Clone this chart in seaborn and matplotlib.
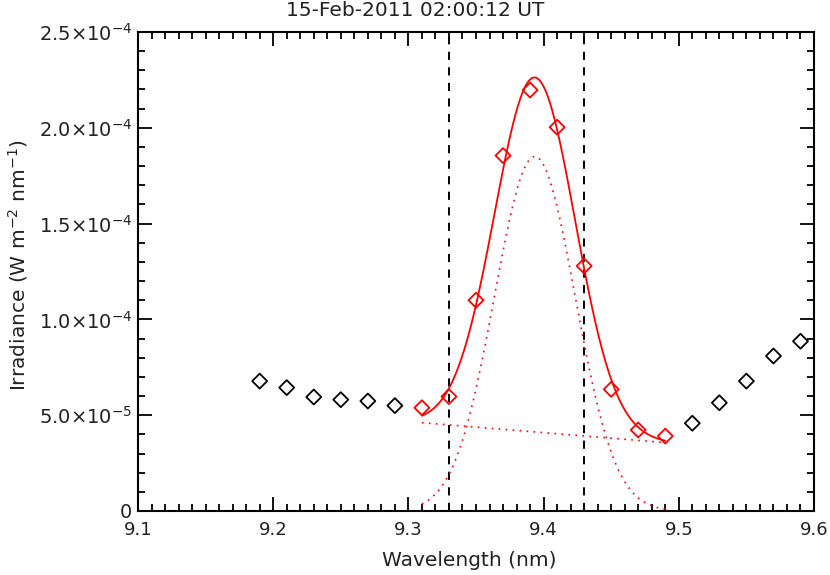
import numpy as np
import pandas as pd
import matplotlib
matplotlib.use("Agg")
import matplotlib.pyplot as plt
import seaborn as sns
from matplotlib.ticker import MultipleLocator, FixedLocator, FixedFormatter

# --- data ---
wave_out = [9.19, 9.21, 9.23, 9.25, 9.27, 9.29, 9.51, 9.53, 9.55, 9.57, 9.59]
irr_out = [6.78e-5, 6.44e-5, 5.95e-5, 5.81e-5, 5.74e-5, 5.50e-5,
           4.58e-5, 5.65e-5, 6.78e-5, 8.09e-5, 8.86e-5]

wave_fit = [9.31, 9.33, 9.35, 9.37, 9.39, 9.41, 9.43, 9.45, 9.47, 9.49]
irr_fit = [5.39e-5, 5.97e-5, 11.0e-5, 18.55e-5, 21.97e-5, 20.03e-5,
           12.79e-5, 6.35e-5, 4.23e-5, 3.91e-5]

# gaussian + linear background fit parameters
gauss_amp = 18.5e-5
gauss_center = 9.3935
gauss_sigma = 0.0298
bg_wave = [9.31, 9.49]
bg_irr = [4.61e-5, 3.57e-5]

window = [9.33, 9.43]

title = "15-Feb-2011 02:00:12 UT"
ytick_vals = [0, 5e-5, 1e-4, 1.5e-4, 2e-4, 2.5e-4]
ytick_labels = ["0", r"5.0$\times$10$^{-5}$", r"1.0$\times$10$^{-4}$",
                r"1.5$\times$10$^{-4}$", r"2.0$\times$10$^{-4}$",
                r"2.5$\times$10$^{-4}$"]

# --- model curves ---
xx = np.linspace(bg_wave[0], bg_wave[1], 300)
slope = (bg_irr[1] - bg_irr[0]) / (bg_wave[1] - bg_wave[0])
bg = bg_irr[0] + slope * (xx - bg_wave[0])
gauss = gauss_amp * np.exp(-(xx - gauss_center) ** 2 / (2 * gauss_sigma ** 2))
curves = pd.DataFrame({"x": xx, "bg": bg, "gauss": gauss, "total": bg + gauss})

sns.set_style("ticks")
plt.rcParams["font.family"] = ["DejaVu Sans"]
plt.rcParams["mathtext.fontset"] = "dejavusans"
TXT = "#222222"
RED = "#ff0000"

fig = plt.figure(figsize=(8.3, 5.75), dpi=100)
ax = fig.add_axes([138 / 830, 1 - 511 / 575, 676 / 830, 479 / 575])

for w in window:
    ax.axvline(w, color="black", lw=1.4, dashes=(4.2, 3.8), zorder=1)

sns.lineplot(data=curves, x="x", y="gauss", ax=ax, color=RED, lw=1.2,
             linestyle=(0, (1, 3.2)), zorder=2)
sns.lineplot(data=curves, x="x", y="bg", ax=ax, color=RED, lw=1.2,
             linestyle=(0, (1, 3.2)), zorder=2)
sns.lineplot(data=curves, x="x", y="total", ax=ax, color=RED, lw=1.3, zorder=3)

sns.scatterplot(x=wave_out, y=irr_out, ax=ax, marker="D", s=58,
                facecolor="none", edgecolor="black", linewidth=1.3, zorder=4)
sns.scatterplot(x=wave_fit, y=irr_fit, ax=ax, marker="D", s=58,
                facecolor="none", edgecolor=RED, linewidth=1.3, zorder=5)

ax.set_xlim(9.1, 9.6)
ax.set_ylim(0, 2.5e-4)
ax.xaxis.set_major_locator(MultipleLocator(0.1))
ax.xaxis.set_minor_locator(MultipleLocator(0.01))
ax.xaxis.set_major_formatter(matplotlib.ticker.FormatStrFormatter("%.1f"))
ax.yaxis.set_major_locator(FixedLocator(ytick_vals))
ax.yaxis.set_major_formatter(FixedFormatter(ytick_labels))
ax.yaxis.set_minor_locator(MultipleLocator(1e-5))

ax.tick_params(which="both", direction="in", top=True, right=True,
               color="black", labelcolor=TXT)
ax.tick_params(axis="x", labelsize=13)
ax.tick_params(axis="y", labelsize=14)
ax.tick_params(which="major", length=10, width=1.3)
ax.tick_params(which="minor", length=5, width=1.3)
ax.tick_params(axis="x", which="major", pad=7)
ax.tick_params(axis="y", which="major", pad=4)
for sp in ax.spines.values():
    sp.set_linewidth(1.5)
    sp.set_color("black")

ax.set_xlabel("Wavelength (nm)", fontsize=14.5, color=TXT)
ax.set_ylabel(r"Irradiance (W m$^{-2}$ nm$^{-1}$)", fontsize=14.5, color=TXT)
ax.xaxis.set_label_coords(0.49, -0.083)
ax.yaxis.set_label_coords(-0.160, 0.513)

fig.text(0.5, 0.998, title, ha="center", va="top", fontsize=14.5, color=TXT)

fig.savefig("out.png", dpi=100)
